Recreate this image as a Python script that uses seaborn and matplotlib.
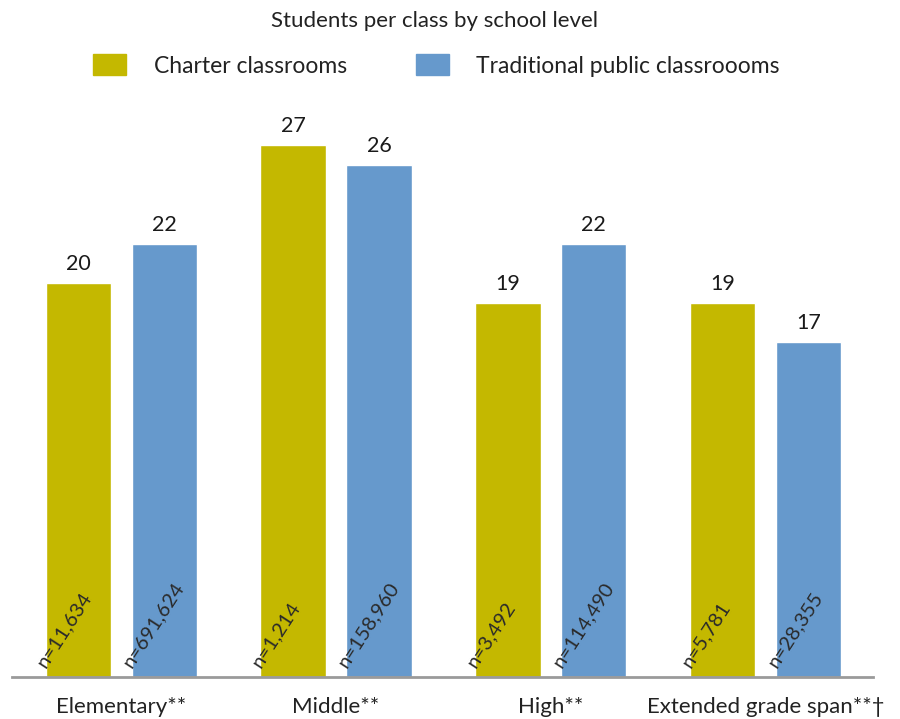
import matplotlib
matplotlib.use("Agg")
import matplotlib.pyplot as plt
import seaborn as sns
import pandas as pd

levels = ["Elementary**", "Middle**", "High**", "Extended grade span**\u2020"]
series = ["Charter classrooms", "Traditional public classroooms"]
charter = [20, 27, 19, 19]
public = [22, 26, 22, 17]
charter_n = ["n=11,634", "n=1,214", "n=3,492", "n=5,781"]
public_n = ["n=691,624", "n=158,960", "n=114,490", "n=28,355"]
colors = ["#C4B800", "#6699CC"]

sns.set_theme(style="white")
plt.rcParams["font.family"] = ["Lato", "DejaVu Sans"]

rows = []
for i, lv in enumerate(levels):
    rows.append({"level": lv, "type": series[0], "value": charter[i], "n": charter_n[i]})
    rows.append({"level": lv, "type": series[1], "value": public[i], "n": public_n[i]})
df = pd.DataFrame(rows)

fig = plt.figure(figsize=(9, 7.19), dpi=100)
ax = fig.add_axes([0.013, 0.0584, 0.957, 0.822])
sns.barplot(data=df, x="level", y="value", hue="type", hue_order=series,
            palette=colors, width=0.8, gap=0.24, ax=ax, legend=False,
            saturation=1, errorbar=None)

ax.set_xlim(-0.51, 3.5)
ax.set_ylim(0, 30)
ax.set_xlabel("")
ax.set_ylabel("")
ax.set_yticks([])
ax.tick_params(axis="x", length=0, labelsize=16, pad=14.5, colors="#222222")
for s in ["left", "right", "top"]:
    ax.spines[s].set_visible(False)
ax.spines["bottom"].set_color("#9a9a9a")
ax.spines["bottom"].set_linewidth(2)

for k, cont in enumerate(ax.containers):
    labels_n = charter_n if k == 0 else public_n
    for j, bar in enumerate(cont):
        h = bar.get_height()
        xc = bar.get_x() + bar.get_width() / 2
        ax.annotate(f"{int(h)}", (xc, h), xytext=(0, 6.5), textcoords="offset points",
                    ha="center", va="bottom", fontsize=15.5, color="#1a1a1a")
        ax.annotate(labels_n[j], (bar.get_x(), 0), xytext=(2, 5), textcoords="offset points",
                    ha="left", va="bottom", rotation=57, rotation_mode="anchor",
                    fontsize=14.5, color="#2a2a2a")

fig.text(0.483, 0.985, "Students per class by school level", ha="center", va="top",
         fontsize=16, color="#222222")

handles = [plt.Rectangle((0, 0), 1, 1, color=c) for c in colors]
fig.legend(handles, series, loc="upper center", bbox_to_anchor=(0.485, 0.953), ncol=2,
           frameon=False, fontsize=16.5, handlelength=1.45, handleheight=1.0,
           handletextpad=1.2, columnspacing=3.0, labelcolor="#222222")

fig.savefig("out.png", dpi=100)
